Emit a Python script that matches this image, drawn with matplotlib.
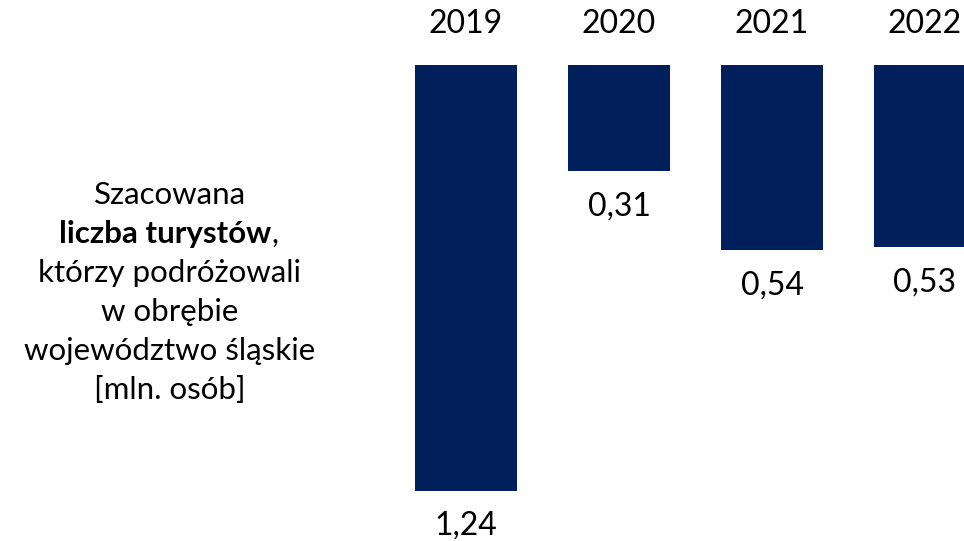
import matplotlib
matplotlib.use("Agg")
import matplotlib.pyplot as plt

years = ["2019", "2020", "2021", "2022"]
values = [1.24, 0.31, 0.54, 0.53]
value_labels = ["1,24", "0,31", "0,54", "0,53"]
desc_lines = ["Szacowana", None, "którzy podróżowali", "w obrębie",
              "województwo śląskie", "[mln. osób]"]
bold_part = "liczba turystów"

color = "#001F5B"
plt.rcParams['font.family'] = ['Lato', 'DejaVu Sans']

W, H = 964, 541
fig = plt.figure(figsize=(W / 100, H / 100), dpi=100)
ax = fig.add_axes([0, 0, 1, 1])
ax.set_axis_off()

x0, dx, y0, k = 466, 153, 65, 343.5
ax.set_xlim(-x0 / dx, (W - x0) / dx)
ax.set_ylim((H - y0) / k, -y0 / k)

xs = list(range(len(years)))
ax.bar(xs, values, width=0.667, color=color, bottom=0)

for x, y, v, lab in zip(xs, years, values, value_labels):
    ax.text(x, -41 / k, y, ha='center', va='center', fontsize=23, color='black')
    ax.text(x, v + 35 / k, lab, ha='center', va='center', fontsize=23, color='black')

# left description
cx = 170
ys_px = [195, 234, 273, 312, 351, 390]
fs = 22.5
for line, ypx in zip(desc_lines, ys_px):
    if line is None:
        t = fig.text(165 / W, 1 - ypx / H, bold_part, ha='center', va='center',
                     fontsize=fs, fontweight='bold', color='black')
        fig.canvas.draw()
        ax.annotate(",", xy=(1, 0), xycoords=t, xytext=(0, 0),
                    textcoords='offset points', ha='left', va='bottom',
                    fontsize=fs, color='black')
    else:
        fig.text(cx / W, 1 - ypx / H, line, ha='center', va='center',
                 fontsize=fs, color='black')

fig.savefig("out.png", dpi=100)
